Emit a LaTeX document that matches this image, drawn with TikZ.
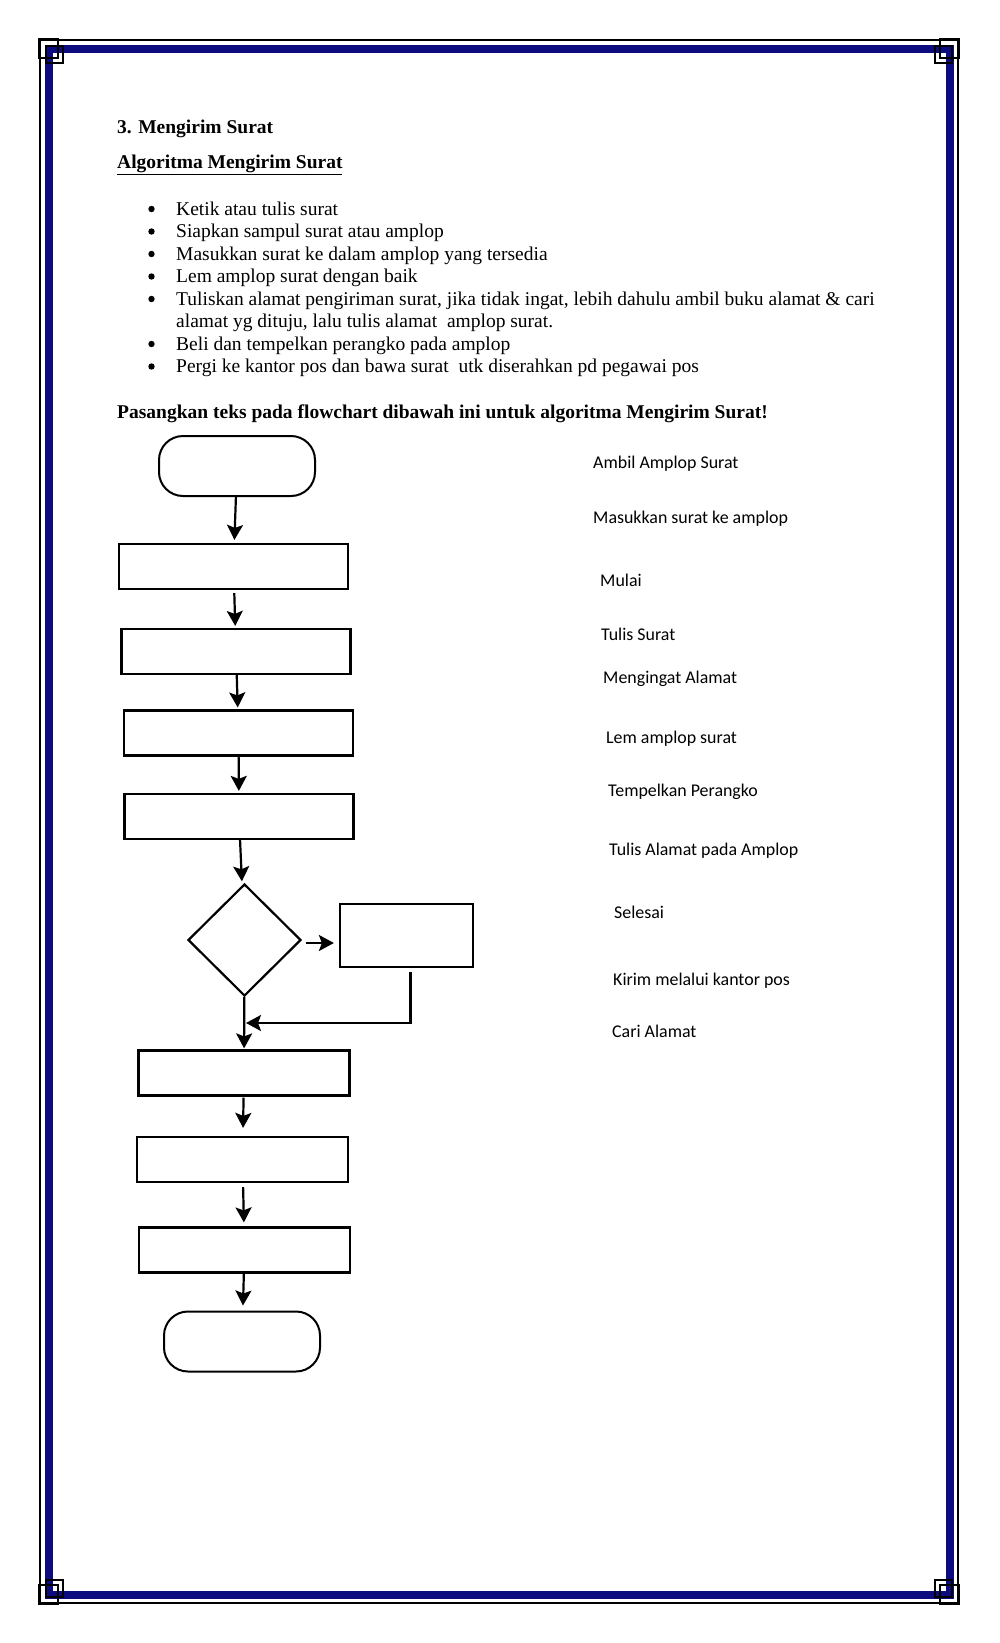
\documentclass[tikz,border=0pt]{standalone}
\usepackage{fontspec}
\setmainfont{Liberation Serif}
\newfontfamily\labelfont{Carlito}
\usepackage{xcolor}
\usetikzlibrary{arrows.meta,shapes.geometric,positioning}
\definecolor{framenavy}{RGB}{12,12,128}
\tikzstyle{line} = [draw, line width=2.2pt, -{Stealth[length=15pt,width=16pt,inset=3pt]}]
\tikzstyle{box} = [draw, line width=2.2pt, minimum width=229pt, minimum height=45pt, inner sep=0pt]
\tikzstyle{smallbox} = [box, minimum width=211pt]
\tikzstyle{term} = [draw, line width=2pt, rounded corners=24pt, minimum width=156pt, minimum height=60pt, inner sep=0pt]
\tikzstyle{txt} = [anchor=base west, inner sep=0pt, font=\fontsize{19.5}{22.5}\selectfont]
\tikzstyle{lbl} = [anchor=base west, inner sep=0pt, font=\labelfont\fontsize{17.9}{21}\selectfont]

\begin{document}
\begin{tikzpicture}[x=1pt,y=-1pt]
		\useasboundingbox (0,0) rectangle (1000,1643);
		\fill[white] (0,0) rectangle (1000,1643);
		
		% page frame
		\draw[framenavy,line width=8pt] (49,49) rectangle (950,1595); %blue frame
		\draw[line width=1.3pt] (40,40) rectangle (958,1603); %outer thin line
		\foreach \cx/\cy/\sx/\sy in {40/40/1/1,958/40/-1/1,40/1603/1/-1,958/1603/-1/-1}{
			\draw[line width=1.3pt] ({\cx-\sx*1},{\cy-\sy*1}) rectangle ({\cx+\sx*18},{\cy+\sy*18}); %corner square
			\draw[line width=1.3pt] ({\cx+\sx*6},{\cy+\sy*6}) rectangle ({\cx+\sx*23},{\cy+\sy*23}); %corner square
		}
		
		% headings
		\node[txt,font=\bfseries\fontsize{19.5}{22.5}\selectfont] (title) at (117,134) {3. Mengirim Surat};
		\node[txt,font=\bfseries\fontsize{19.5}{22.5}\selectfont] (algo) at (117,168) {\underline{Algoritma Mengirim Surat}};
		
		% bullet list
		\foreach \y in {215,237.5,260,282.5,305,350,372.5} { \fill (151.5,{\y-6}) circle (3.2); } %bullets
		\node[txt] (item1) at (176,215) {Ketik atau tulis surat};
		\node[txt] (item2) at (176,237.5) {Siapkan sampul surat atau amplop};
		\node[txt] (item3) at (176,260) {Masukkan surat ke dalam amplop yang tersedia};
		\node[txt] (item4) at (176,282.5) {Lem amplop surat dengan baik};
		\node[txt] (item5) at (176,305) {Tuliskan alamat pengiriman surat, jika tidak ingat, lebih dahulu ambil buku alamat \& cari};
		\node[txt] (item5b) at (176,327.5) {alamat yg dituju, lalu tulis alamat~ amplop surat.};
		\node[txt] (item6) at (176,350) {Beli dan tempelkan perangko pada amplop};
		\node[txt] (item7) at (176,372.5) {Pergi ke kantor pos dan bawa surat~ utk diserahkan pd pegawai pos};
		
		\node[txt,font=\bfseries\fontsize{19.5}{22.5}\selectfont] (task) at (117,418) {Pasangkan teks pada flowchart dibawah ini untuk algoritma Mengirim Surat!};
		
		% flowchart
		\node[term] (start) at (237,466) {};
		\node[box] (s1) at (233.5,566.5) {};
		\node[box] (s2) at (236,651.5) {};
		\node[box] (s3) at (238.5,733) {};
		\node[box] (s4) at (239,816.5) {};
		\node[draw,diamond,line width=2.2pt,minimum width=113pt,minimum height=112pt,inner sep=0pt] (dec) at (244.5,940) {};
		\node[draw,line width=2.2pt,minimum width=133pt,minimum height=63pt,inner sep=0pt] (alt) at (406.5,935.5) {};
		\node[smallbox] (s5) at (244,1073) {};
		\node[smallbox] (s6) at (242.5,1159.5) {};
		\node[smallbox] (s7) at (244.5,1250) {};
		\node[term] (stop) at (242,1341.5) {};
		\coordinate (mrg) at (246,1023);
		
		\path[line,shorten >=3pt] (start) -- (s1);
		\path[line,shorten <=3pt,shorten >=2pt] (s1) -- (s2);
		\path[line,shorten >=2pt] (s2) -- (s3);
		\path[line,shorten >=2pt] (s3) -- (s4);
		\path[line,shorten >=4pt] (s4) -- (dec);
		\path[line,shorten <=4pt,shorten >=5pt] ([yshift=-3pt]dec.east) -- ([yshift=-3pt]dec.east -| alt.west);
		\path[line,shorten <=4pt] ([xshift=4pt]alt.south) |- (mrg);
		\path[line,shorten >=1pt] (dec) -- (s5);
		\path[line,shorten <=1pt,shorten >=8pt] (s5) -- (s6);
		\path[line,shorten <=4pt,shorten >=4pt] (s6) -- (s7);
		\path[line,shorten >=5pt] (s7) -- (stop);
		
		% labels to match
		\node[lbl] (l1) at (593,468) {Ambil Amplop Surat};
		\node[lbl] (l2) at (593,523) {Masukkan surat ke amplop};
		\node[lbl] (l3) at (600,586) {Mulai};
		\node[lbl] (l4) at (601,640) {Tulis Surat};
		\node[lbl] (l5) at (603,683) {Mengingat Alamat};
		\node[lbl] (l6) at (606,743) {Lem amplop surat};
		\node[lbl] (l7) at (608,796) {Tempelkan Perangko};
		\node[lbl] (l8) at (609,855) {Tulis Alamat pada Amplop};
		\node[lbl] (l9) at (614,918) {Selesai};
		\node[lbl] (l10) at (613,985) {Kirim melalui kantor pos};
		\node[lbl] (l11) at (612,1037) {Cari Alamat};
		
		\end{tikzpicture}
\end{document}
